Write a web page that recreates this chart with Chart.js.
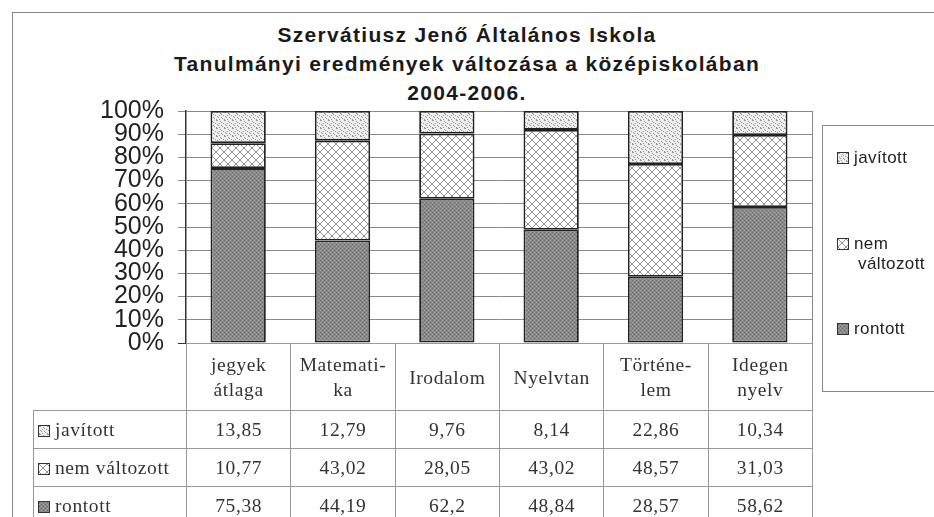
<!DOCTYPE html>
<html>
<head>
<meta charset="utf-8">
<script src="https://cdn.jsdelivr.net/npm/chart.js@4/dist/chart.umd.min.js"></script>
<style>
  body { margin: 0; background: #fff; }
  #wrap { position: relative; width: 934px; height: 517px; overflow: hidden; }
  #frame { position: absolute; left: 12px; top: 12px; width: 940px; height: 520px;
           border-left: 1px solid #888; border-top: 1px solid #888; }
  #title { position: absolute; left: 0; top: 20px; width: 934px; text-align: center;
           font: bold 21px "Liberation Sans", Arial, sans-serif; line-height: 29px; color: #1a1a1a;
           letter-spacing: 1.3px; }
  canvas { position: absolute; left: 0; top: 0; }
  #table { position: absolute; border-collapse: collapse; table-layout: fixed;
           font: 19.5px "Liberation Serif", "Times New Roman", serif; color: #333; letter-spacing: 0.6px; }
  #table td { border: 1px solid #999; text-align: center; padding: 0; }
  #table td.lab { text-align: left; padding-left: 4px; white-space: nowrap; }
  #table td.blank { border: none; }
  #legend { position: absolute; left: 822px; top: 125px; width: 130px; height: 265px;
            border: 1px solid #888; font: 17px "Liberation Sans", Arial, sans-serif; color: #222;
            letter-spacing: 0.4px; }
  .item { position: absolute; left: 14px; line-height: 20px; }
  .sw { display: inline-block; width: 10px; height: 10px; border: 1px solid #333;
        margin-right: 5px; vertical-align: -1px; }
</style>
</head>
<body>
<div id="wrap">
  <div id="frame"></div>
  <div id="title">Szervátiusz Jenő Általános Iskola<br>Tanulmányi eredmények változása a középiskolában<br>2004-2006.</div>
  <canvas id="chart" width="934" height="517"></canvas>
  <table id="table"></table>
  <div id="legend"></div>
</div>
<script>
// tantárgyak
const categories = [["jegyek", "átlaga"], ["Matemati-", "ka"], ["Irodalom"], ["Nyelvtan"], ["Történe-", "lem"], ["Idegen", "nyelv"]];
const seriesNames = ["javított", "nem változott", "rontott"];
const javitott = [13.85, 12.79, 9.76, 8.14, 22.86, 10.34];
const nemValtozott = [10.77, 43.02, 28.05, 43.02, 48.57, 31.03];
const rontott = [75.38, 44.19, 62.2, 48.84, 28.57, 58.62];

// small tiles for the hatch fills
function makeTile(size, draw) {
	const c = document.createElement("canvas");
	c.width = size;
	c.height = size;
	draw(c.getContext("2d"));
	return c;
}

const dotTile = makeTile(8, function (g) {
	g.fillStyle = "#eeeeee";
	g.fillRect(0, 0, 8, 8);
	g.fillStyle = "#9a9a9a";
	[[0, 0], [1, 0], [4, 1], [5, 2], [7, 3], [1, 4], [2, 5], [5, 5], [6, 6], [3, 7], [0, 7], [3, 3]].forEach(function (p) {
		g.fillRect(p[0], p[1], 1, 1);
	});
});

const crossTile = makeTile(8, function (g) {
	g.fillStyle = "#ffffff";
	g.fillRect(0, 0, 8, 8);
	g.fillStyle = "#939393";
	for (let i = 0; i < 8; i++) {
		g.fillRect(i, i, 1, 1);
		g.fillRect(7 - i, i, 1, 1);
	}
});

const darkTile = makeTile(4, function (g) {
	g.fillStyle = "#8a8a8a";
	g.fillRect(0, 0, 4, 4);
	g.fillStyle = "#6a6a6a";
	g.fillRect(0, 0, 1, 1);
	g.fillRect(2, 2, 1, 1);
	g.fillStyle = "#a4a4a4";
	g.fillRect(2, 0, 1, 1);
	g.fillRect(0, 2, 1, 1);
});

const ctx = document.getElementById("chart");
const g2 = ctx.getContext("2d");
const patterns = {
	"javított": g2.createPattern(dotTile, "repeat"),
	"nem változott": g2.createPattern(crossTile, "repeat"),
	"rontott": g2.createPattern(darkTile, "repeat"),
};
const tiles = { "javított": dotTile, "nem változott": crossTile, "rontott": darkTile };

const plotFrame = {
	id: "plotFrame",
	afterDraw(chart) {
		const a = chart.chartArea;
		const c = chart.ctx;
		c.save();
		c.strokeStyle = "#888";
		c.lineWidth = 1;
		c.beginPath();
		c.moveTo(a.right + 0.5, a.top);
		c.lineTo(a.right + 0.5, a.bottom);
		c.stroke();
		c.restore();
	},
};

const chart = new Chart(ctx, {
	type: "bar",
	data: {
		labels: categories,
		datasets: [
			{ label: "rontott", data: rontott, backgroundColor: patterns["rontott"] },
			{ label: "nem változott", data: nemValtozott, backgroundColor: patterns["nem változott"] },
			{ label: "javított", data: javitott, backgroundColor: patterns["javított"] },
		].map(function (d) {
			return Object.assign(d, {
				borderColor: "#222",
				borderWidth: 1.8,
				borderSkipped: false,
				barPercentage: 0.53,
				categoryPercentage: 1,
			});
		}),
	},
	options: {
		responsive: false,
		animation: false,
		layout: { padding: { left: 10, right: 122, top: 111, bottom: 174 } },
		plugins: { legend: { display: false }, title: { display: false }, tooltip: { enabled: false } },
		scales: {
			x: { stacked: true, display: false },
			y: {
				stacked: true,
				min: 0,
				max: 100,
				afterFit(scale) {
					scale.width = 176;
				},
				ticks: {
					stepSize: 10,
					autoSkip: false,
					padding: 14,
					color: "#222",
					font: { family: "Liberation Sans", size: 25, lineHeight: 1 },
					callback: function (v) {
						return v + "%";
					},
				},
				grid: {
					tickLength: 8,
					color: function (c) {
						return c.tick && c.tick.value === 0 ? "#333" : "#8a8a8a";
					},
				},
				border: { color: "#333", width: 1.5 },
			},
		},
	},
	plugins: [plotFrame],
});

// data table below the plot, columns follow the x scale
const area = chart.chartArea;
const colW = (area.right - area.left) / categories.length;
const labW = area.left - 33;
const table = document.getElementById("table");
table.style.left = "33px";
table.style.top = Math.round(area.bottom) + "px";
table.style.width = (labW + colW * categories.length) + "px";

let html = "<colgroup><col style='width:" + labW + "px'>";
categories.forEach(function () {
	html += "<col style='width:" + colW + "px'>";
});
html += "</colgroup><tr style='height:67px'><td class='blank'></td>";
categories.forEach(function (c) {
	html += "<td style='line-height:25px'>" + c.join("<br>") + "</td>";
});
html += "</tr>";
const rows = { "javított": javitott, "nem változott": nemValtozott, "rontott": rontott };
seriesNames.forEach(function (name) {
	html += "<tr style='height:38px'><td class='lab'><span class='sw' style='background-image:url(" +
		tiles[name].toDataURL() + ")'></span>" + name + "</td>";
	rows[name].forEach(function (v) {
		html += "<td>" + String(v).replace(".", ",") + "</td>";
	});
	html += "</tr>";
});
table.innerHTML = html;

// legend
const legend = document.getElementById("legend");
const legendTop = { "javított": 22, "nem változott": 108, "rontott": 193 };
seriesNames.forEach(function (name) {
	const div = document.createElement("div");
	div.className = "item";
	div.style.top = legendTop[name] + "px";
	const parts = name.split(" ");
	let text = "<span class='sw' style='background-image:url(" + tiles[name].toDataURL() + ")'></span>" + parts[0];
	if (parts.length > 1) {
		text += "<br><span style='padding-left:21px'>" + parts.slice(1).join(" ") + "</span>";
	}
	div.innerHTML = text;
	legend.appendChild(div);
});
</script>
</body>
</html>
